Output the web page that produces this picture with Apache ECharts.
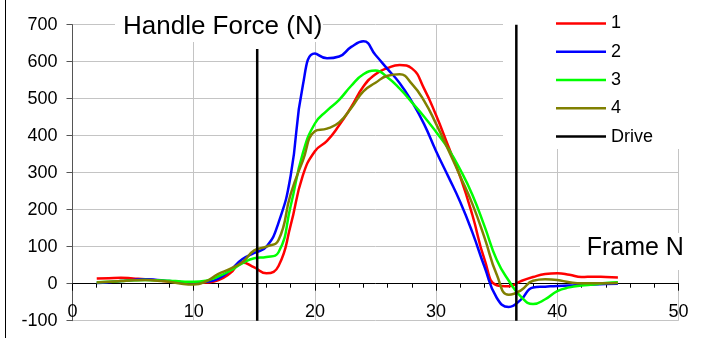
<!DOCTYPE html>
<html>
<head>
<meta charset="utf-8">
<script src="https://cdn.jsdelivr.net/npm/echarts@6/dist/echarts.min.js"></script>
<style>
  html, body { margin: 0; padding: 0; background: #fff; }
  #chart { width: 714px; height: 338px; }
</style>
</head>
<body>
<div id="chart"></div>
<script>
// Frame numbers sampled in the recording
const frames = [2, 3, 4, 5, 6, 7, 8, 9, 10, 11, 12, 13, 14, 15, 16, 17, 18, 19, 20, 21,
                22, 23, 24, 25, 26, 27, 28, 29, 30, 31, 32, 33, 34, 35, 36, 37, 38, 39, 40, 41,
                42, 43, 44, 45];

// Handle force (N) per stroke
const stroke1 = [14, 15, 16, 14, 12, 9, 6, 3, 1, 3, 9, 28, 57, 44, 28, 48, 158, 292, 358, 386,
                 428, 478, 533, 566, 583, 591, 582, 528, 455, 372, 288, 185, 65, -4, -7, 7, 18, 26, 28, 24,
                 18, 19, 18, 17];
const stroke2 = [2, 4, 7, 10, 12, 10, 7, 4, 3, 5, 13, 36, 66, 83, 100, 165, 292, 535, 622, 609,
                 614, 640, 655, 618, 580, 542, 492, 432, 358, 290, 220, 138, 45, -38, -63, -43, -10, -8, -6, -5,
                 -3, -2, -1, 0];
const stroke3 = [4, 5, 7, 9, 10, 9, 8, 6, 5, 8, 19, 35, 55, 69, 72, 85, 210, 352, 433, 468,
                 497, 535, 566, 576, 557, 527, 490, 452, 410, 365, 308, 240, 155, 65, 8, -35, -55, -42, -20, -10,
                 -5, -2, 2, 4];
const stroke4 = [3, 5, 7, 9, 10, 8, 5, 0, -2, 6, 26, 40, 58, 90, 100, 118, 242, 332, 412, 419,
                 436, 475, 520, 543, 562, 566, 540, 495, 432, 362, 290, 215, 124, 25, -30, -18, 8, 12, 10, 4,
                 1, 1, 1, 2];

// Drive phase markers: [frame, bottom force, top force]
const driveStart = [15.24, -100, 634];
const driveEnd = [36.62, -100, 700];

const strokeNames = ['1', '2', '3', '4'];
const strokeColors = ['#ff0000', '#0000ff', '#00ff00', '#808000'];
const strokeValues = [stroke1, stroke2, stroke3, stroke4];

const FONT = '"Liberation Sans", Arial, sans-serif';

const chart = echarts.init(document.getElementById('chart'), null, { renderer: 'canvas' });

const series = strokeValues.map((vals, i) => ({
  name: strokeNames[i],
  type: 'line',
  data: frames.map((f, k) => [f, vals[k]]),
  smooth: 0.5,
  symbol: 'none',
  lineStyle: { color: strokeColors[i], width: 2.5 },
  itemStyle: { color: strokeColors[i] },
  z: 3
}));

[driveStart, driveEnd].forEach(d => {
  series.push({
    name: 'Drive',
    type: 'line',
    data: [[d[0], d[1]], [d[0], d[2]]],
    symbol: 'none',
    lineStyle: { color: '#000', width: 2.5 },
    itemStyle: { color: '#000' },
    z: 4
  });
});

chart.setOption({
  animation: false,
  backgroundColor: '#fff',
  grid: { left: 72.5, right: 35.5, top: 24.7, bottom: 17.3, containLabel: false, outerBoundsMode: 'none' },
  legend: {
    data: ['1', '2', '3', '4', 'Drive'],
    orient: 'vertical',
    left: 556,
    top: 14.4,
    padding: 0,
    icon: 'rect',
    itemWidth: 50,
    itemHeight: 2.5,
    itemGap: 10.3,
    itemTextGap: 5,
    textStyle: { fontSize: 18, color: '#000', fontFamily: FONT },
    z: 5
  },
  xAxis: {
    type: 'value',
    min: 0,
    max: 50,
    interval: 10,
    axisLine: { onZero: true, lineStyle: { color: '#000', width: 1 } },
    axisTick: { show: true, inside: false, length: 7, lineStyle: { color: '#000' } },
    minorTick: { show: true, splitNumber: 5, length: 4, lineStyle: { color: '#000' } },
    axisLabel: { margin: -18, fontSize: 18, color: '#000', fontFamily: FONT },
    splitLine: { show: true, lineStyle: { color: '#c4c4c4', width: 1 } }
  },
  yAxis: {
    type: 'value',
    min: -100,
    max: 700,
    interval: 100,
    axisLine: { show: true, onZero: false, lineStyle: { color: '#555', width: 1 } },
    axisTick: { show: true, inside: false, length: 6, lineStyle: { color: '#555' } },
    axisLabel: { margin: 15, fontSize: 18, color: '#000', fontFamily: FONT },
    splitLine: { show: true, lineStyle: { color: '#c4c4c4', width: 1 } }
  },
  graphic: [
    { type: 'line', shape: { x1: 5.5, y1: 0, x2: 5.5, y2: 338 }, style: { stroke: '#000', lineWidth: 1 }, z: 6 },
    { type: 'rect', shape: { x: 115, y: 8, width: 208, height: 34 }, style: { fill: '#fff' }, z: 1 },
    { type: 'text', x: 123, y: 27, style: { text: 'Handle Force (N)', font: '26px ' + FONT, fill: '#000', verticalAlign: 'middle' }, z: 6 },
    { type: 'rect', shape: { x: 503, y: 0, width: 211, height: 149 }, style: { fill: '#fff' }, z: 1 },
    { type: 'rect', shape: { x: 580, y: 233, width: 134, height: 37 }, style: { fill: '#fff' }, z: 1 },
    { type: 'text', x: 586.7, y: 248.3, style: { text: 'Frame N', font: '25px ' + FONT, fill: '#000', verticalAlign: 'middle' }, z: 6 }
  ],
  series: series
});
</script>
</body>
</html>
